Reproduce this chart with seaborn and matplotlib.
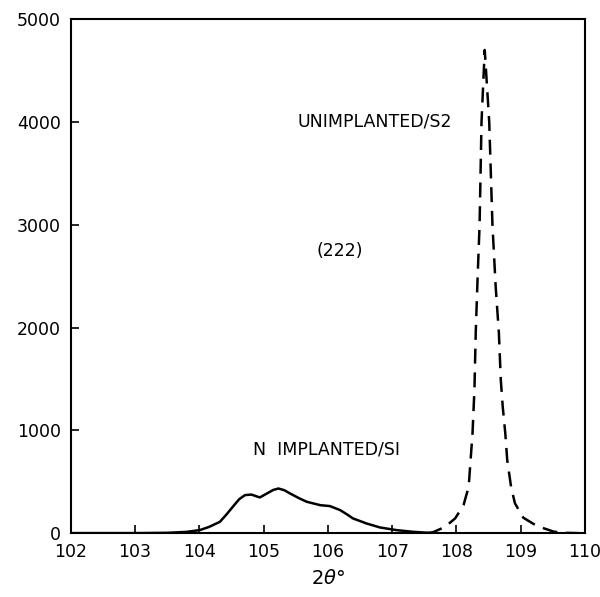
import numpy as np
import pandas as pd
import seaborn as sns
from matplotlib import pyplot as plt

# N implanted / SI (solid)
x_impl = [102.0, 103.0, 103.5, 103.8, 104.01, 104.15, 104.32, 104.42, 104.52, 104.62,
          104.71, 104.81, 104.94, 105.07, 105.15, 105.23, 105.32, 105.41, 105.55, 105.67,
          105.88, 106.03, 106.19, 106.29, 106.39, 106.6, 106.81, 107.07, 107.32, 107.59]
y_impl = [0, 0, 3, 12, 30, 60, 110, 180, 256, 330,
          370, 375, 347, 392, 420, 434, 418, 386, 340, 305,
          272, 263, 224, 185, 143, 94, 55, 29, 13, 2]

# unimplanted / S2 (dashed)
x_unimp = [107.55, 107.64, 107.82, 107.98, 108.11, 108.19, 108.22, 108.25, 108.28, 108.3,
           108.33, 108.36, 108.39, 108.44, 108.51, 108.56, 108.61, 108.66, 108.69, 108.72,
           108.76, 108.79, 108.85, 108.91, 109.04, 109.25, 109.51, 109.66, 109.9]
y_unimp = [0, 10, 60, 143, 272, 450, 710, 970, 1400, 1950,
           2500, 3000, 4000, 4700, 4000, 3000, 2400, 1950, 1490, 1230,
           970, 710, 450, 290, 150, 70, 15, 3, 0]

sns.set_style("white")
plt.rcParams['font.family'] = ['DejaVu Sans']
plt.rcParams['text.color'] = 'black'

fig = plt.figure(figsize=(6, 5.97), dpi=100)
ax = fig.add_axes([0.118, 0.107, 0.857, 0.861])

df1 = pd.DataFrame({'x': x_impl, 'y': y_impl})
df2 = pd.DataFrame({'x': x_unimp, 'y': y_unimp})
sns.lineplot(data=df1, x='x', y='y', ax=ax, color='black', lw=1.8, sort=False)
sns.lineplot(data=df2, x='x', y='y', ax=ax, color='black', lw=1.8, sort=False)
ax.lines[-1].set_dashes([6, 3.5])

ax.set_xlim(102, 110)
ax.set_ylim(0, 5000)
ax.set_xticks(np.arange(102, 111, 1))
ax.set_yticks(np.arange(0, 5001, 1000))
ax.tick_params(direction='in', length=6, width=1.2, labelsize=12.5, colors='black',
               top=False, right=False, left=True, bottom=True, pad=7)
for s in ax.spines.values():
    s.set_color('black')
    s.set_linewidth(1.5)

ax.set_xlabel(r'2$\theta$°', fontsize=14, labelpad=6, color='black')
ax.set_ylabel('')

ax.text(105.52, 4000, 'UNIMPLANTED/S2', fontsize=12.5, ha='left', va='center')
ax.text(106.19, 2740, '(222)', fontsize=12.5, ha='center', va='center')
ax.text(105.98, 810, 'N  IMPLANTED/SI', fontsize=12.5, ha='center', va='center')

fig.savefig('out.png', dpi=100, facecolor='white')
